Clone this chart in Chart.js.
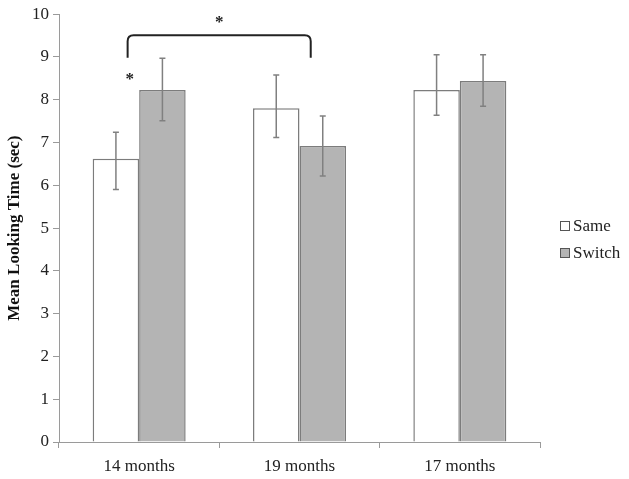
<!DOCTYPE html>
<html>
<head>
<meta charset="utf-8">
<script src="https://cdn.jsdelivr.net/npm/chart.js@4"></script>
<style>
  html, body { margin: 0; padding: 0; background: #fff; }
  #wrap { width: 629px; height: 479px; }
</style>
</head>
<body>
<div id="wrap"><canvas id="c" width="629" height="479"></canvas></div>
<script>
const categories = ['14 months', '19 months', '17 months'];
const seriesNames = ['Same', 'Switch'];
const sameValues = [6.62, 7.80, 8.23];
const switchValues = [8.23, 6.92, 8.44];
const sameUpper = [7.24, 8.58, 9.05];
const sameLower = [5.90, 7.12, 7.64];
const switchUpper = [8.97, 7.62, 9.05];
const switchLower = [7.51, 6.22, 7.85];
const yTicks = [0, 1, 2, 3, 4, 5, 6, 7, 8, 9, 10];
// significance bracket between categories 0 and 1, top and end values
const bracketTop = 9.51;
const bracketEnd = 8.98;
const starBracketValue = 9.87;
const starPairValue = 8.55;

const serif = "'Liberation Serif', 'Times New Roman', serif";
const axisColor = '#9a9a9a';
const barBorder = '#7c7c7c';

const errorBars = {
  id: 'errorBars',
  afterDatasetsDraw(chart) {
    const ctx = chart.ctx;
    const y = chart.scales.y;
    const sets = [[sameUpper, sameLower], [switchUpper, switchLower]];
    ctx.save();
    ctx.strokeStyle = '#808080';
    ctx.lineWidth = 1.5;
    sets.forEach((s, di) => {
      const meta = chart.getDatasetMeta(di);
      meta.data.forEach((bar, i) => {
        const x = bar.x;
        const yt = y.getPixelForValue(s[0][i]);
        const yb = y.getPixelForValue(s[1][i]);
        ctx.beginPath();
        ctx.moveTo(x, yt); ctx.lineTo(x, yb);
        ctx.moveTo(x - 3, yt); ctx.lineTo(x + 3, yt);
        ctx.moveTo(x - 3, yb); ctx.lineTo(x + 3, yb);
        ctx.stroke();
      });
    });
    ctx.restore();
  }
};

const annotations = {
  id: 'annotations',
  afterDraw(chart) {
    const ctx = chart.ctx;
    const xs = chart.scales.x, ys = chart.scales.y;
    const catW = xs.getPixelForValue(1) - xs.getPixelForValue(0);
    const x1 = xs.getPixelForValue(0) - catW * 0.072;
    const x2 = xs.getPixelForValue(1) + catW * 0.07;
    const yt = ys.getPixelForValue(bracketTop);
    const ye = ys.getPixelForValue(bracketEnd);
    const r = 6;
    ctx.save();
    ctx.strokeStyle = '#222';
    ctx.lineWidth = 2;
    ctx.beginPath();
    ctx.moveTo(x1, ye);
    ctx.lineTo(x1, yt + r);
    ctx.quadraticCurveTo(x1, yt, x1 + r, yt);
    ctx.lineTo(x2 - r, yt);
    ctx.quadraticCurveTo(x2, yt, x2, yt + r);
    ctx.lineTo(x2, ye);
    ctx.stroke();
    ctx.fillStyle = '#222';
    ctx.font = 'bold 17px ' + serif;
    ctx.textAlign = 'center';
    ctx.textBaseline = 'middle';
    ctx.fillText('*', (x1 + x2) / 2, ys.getPixelForValue(starBracketValue) + 3);
    const pm = chart.getDatasetMeta(1).data[0];
    ctx.fillText('*', pm.x - pm.width * 0.7, ys.getPixelForValue(starPairValue) + 3);

    // legend
    const lx = 560, ly0 = 226, gap = 27;
    const fills = ['#ffffff', '#b4b4b4'];
    ctx.font = '17px ' + serif;
    ctx.textAlign = 'left';
    ctx.lineWidth = 1;
    seriesNames.forEach((n, i) => {
      const cy = ly0 + i * gap;
      ctx.fillStyle = fills[i];
      ctx.fillRect(lx, cy - 4.5, 9, 9);
      ctx.strokeStyle = '#555';
      ctx.strokeRect(lx + 0.5, cy - 4.5, 9, 9);
      ctx.fillStyle = '#222';
      ctx.fillText(n, lx + 13, cy + 1);
    });
    ctx.restore();
  }
};

new Chart(document.getElementById('c'), {
  type: 'bar',
  data: {
    labels: categories,
    datasets: [
      { label: seriesNames[0], data: sameValues, backgroundColor: '#ffffff', borderColor: barBorder, borderWidth: 1.5 },
      { label: seriesNames[1], data: switchValues, backgroundColor: '#b4b4b4', borderColor: barBorder, borderWidth: 1.5 }
    ]
  },
  options: {
    responsive: false,
    animation: false,
    devicePixelRatio: 1,
    layout: { padding: { left: 0, right: 89, top: 12, bottom: 0 } },
    datasets: { bar: { barPercentage: 1.0, categoryPercentage: 0.58 } },
    plugins: { legend: { display: false }, tooltip: { enabled: false } },
    scales: {
      x: {
        grid: { display: true, offset: true, drawOnChartArea: false, drawTicks: true, tickLength: 6, color: axisColor },
        border: { display: true, color: axisColor, width: 1 },
        ticks: { font: { family: serif, size: 17 }, color: '#222', padding: 8 },
        afterFit(s) { s.height = 37; }
      },
      y: {
        min: 0, max: 10,
        afterBuildTicks(s) { s.ticks = yTicks.map(v => ({ value: v })); },
        grid: { display: true, drawOnChartArea: false, drawTicks: true, tickLength: 6, color: axisColor },
        border: { display: true, color: axisColor, width: 1 },
        ticks: { font: { family: serif, size: 17 }, color: '#222', padding: 4 },
        title: { display: true, text: 'Mean Looking Time (sec)', font: { family: serif, size: 17, weight: 'bold' }, color: '#111', padding: 4 },
        afterFit(s) { s.width = 59; }
      }
    }
  },
  plugins: [errorBars, annotations]
});
</script>
</body>
</html>
